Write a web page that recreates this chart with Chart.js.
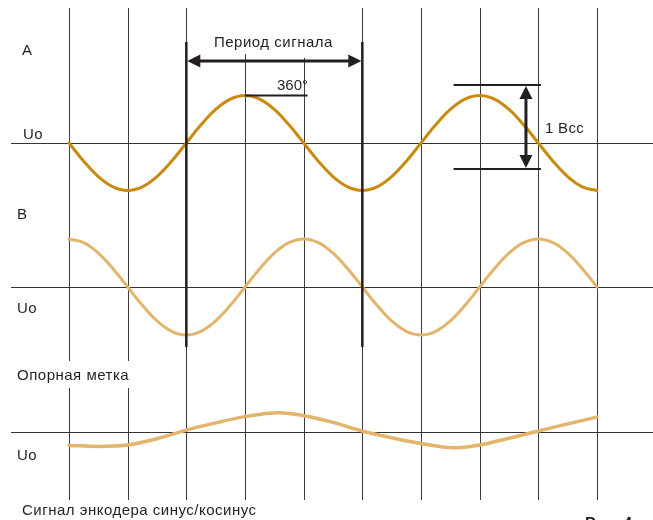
<!DOCTYPE html>
<html><head><meta charset="utf-8">
<script src="https://cdn.jsdelivr.net/npm/chart.js@4.4.1/dist/chart.umd.min.js"></script>
<style>html,body{margin:0;padding:0;background:#fff;overflow:hidden}canvas{display:block}</style>
</head><body>
<canvas id="c" width="653" height="520"></canvas>
<script>
// ---- data (phase in degrees, signal in volts) ----
const phaseDeg  = [0,22.5,45,67.5,90,112.5,135,157.5,180,202.5,225,247.5,270,292.5,315,337.5,
                   360,382.5,405,427.5,450,472.5,495,517.5,540,562.5,585,607.5,630,652.5,675,697.5,
                   720,742.5,765,787.5,810];
const signalA   = [0,-0.191,-0.354,-0.462,-0.5,-0.462,-0.354,-0.191,0,0.191,0.354,0.462,0.5,0.462,0.354,0.191,
                   0,-0.191,-0.354,-0.462,-0.5,-0.462,-0.354,-0.191,0,0.191,0.354,0.462,0.5,0.462,0.354,0.191,
                   0,-0.191,-0.354,-0.462,-0.5];
const signalB   = [0.5,0.462,0.354,0.191,0,-0.191,-0.354,-0.462,-0.5,-0.462,-0.354,-0.191,0,0.191,0.354,0.462,
                   0.5,0.462,0.354,0.191,0,-0.191,-0.354,-0.462,-0.5,-0.462,-0.354,-0.191,0,0.191,0.354,0.462,
                   0.5,0.462,0.354,0.191,0];
const refDeg    = [0,45,90,135,180,225,270,322,360,405,450,495,540,590,630,675,720,765,810];
const refSignal = [-0.14,-0.15,-0.135,-0.07,0.02,0.095,0.16,0.2,0.17,0.1,0.01,-0.06,-0.12,-0.165,-0.135,-0.065,0.01,0.085,0.155];
const gridDeg   = [0,90,180,270,360,450,540,630,720,810];

const labelA = 'A', labelB = 'B', labelRef = 'Опорная метка', labelZero = 'Uo';
const caption = 'Сигнал энкодера синус/косинус';
const periodLabel = 'Период сигнала', angleLabel = '360°', ampLabel = '1 Всс', figLabel = 'Рис. 4';

// ---- styles / layout ----
const INK = '#231f20';
const GRID = '#3c3c3c';
const COL_A = '#C98A12';
const COL_B = '#E3B46B';
const FONT = '15px "Liberation Sans", Arial, sans-serif';
const H = 520;
function band(zeroPx, pxPerUnit){ return {min: -(H - zeroPx)/pxPerUnit, max: zeroPx/pxPerUnit}; }
const bA = band(143, 95), bB = band(287, 96), bR = band(432, 96);

function head(ctx, x, y, dx, dy, len, half){
  const px = -dy, py = dx;
  ctx.beginPath();
  ctx.moveTo(x, y);
  ctx.lineTo(x - dx*len + px*half, y - dy*len + py*half);
  ctx.lineTo(x - dx*len - px*half, y - dy*len - py*half);
  ctx.closePath();
  ctx.fill();
}
function hline(ctx, x1, x2, y, w){ ctx.lineWidth = w; ctx.beginPath(); ctx.moveTo(x1, y); ctx.lineTo(x2, y); ctx.stroke(); }
function vline(ctx, x, y1, y2, w){ ctx.lineWidth = w; ctx.beginPath(); ctx.moveTo(x, y1); ctx.lineTo(x, y2); ctx.stroke(); }

const diagram = {
  id: 'diagram',
  beforeDatasetsDraw(chart){
    const ctx = chart.ctx, x = chart.scales.x;
    ctx.save();
    ctx.strokeStyle = GRID;
    const segs = {0:[[8,361],[388,500]], 90:[[8,361],[388,500]], 270:[[54,500]], 360:[[58,500]]};
    gridDeg.forEach(d => {
      const px = Math.round(x.getPixelForValue(d)) + 0.5;
      (segs[d] || [[8,500]]).forEach(s => vline(ctx, px, s[0], s[1], 1));
    });
    ctx.strokeStyle = '#333';
    ['yA','yB','yR'].forEach(id => {
      const py = Math.round(chart.scales[id].getPixelForValue(0)) + 0.5;
      hline(ctx, 11, 653, py, 1);
    });
    ctx.fillStyle = INK;
    ctx.font = FONT;
    ctx.textBaseline = 'alphabetic';
    ctx.letterSpacing = '0.5px';
    ctx.fillText(labelA, 22, 55);
    ctx.fillText(labelZero, 23, 139);
    ctx.fillText(labelB, 17, 219);
    ctx.fillText(labelZero, 17, 313);
    ctx.fillText(labelRef, 17, 380);
    ctx.fillText(labelZero, 17, 460);
    ctx.fillText(caption, 22, 515);
    ctx.fillText(periodLabel, 214, 47);
    ctx.letterSpacing = '0px';
    ctx.fillText(angleLabel, 277, 90);
    ctx.letterSpacing = '0.3px';
    ctx.fillText(ampLabel, 545, 133);
    ctx.letterSpacing = '0px';
    ctx.font = 'bold 16px "Liberation Sans", Arial, sans-serif';
    ctx.fillText(figLabel, 585, 529);
    ctx.restore();
  },
  afterDatasetsDraw(chart){
    const ctx = chart.ctx, x = chart.scales.x, yA = chart.scales.yA;
    ctx.save();
    ctx.strokeStyle = INK; ctx.fillStyle = INK;
    const x1 = x.getPixelForValue(180), x2 = x.getPixelForValue(450);
    vline(ctx, x1, 42, 347, 2.5);
    vline(ctx, x2, 42, 347, 2.5);
    hline(ctx, x1 + 8, x2 - 8, 61, 3);
    head(ctx, x1 + 1, 61, -1, 0, 13, 6.5);
    head(ctx, x2 - 1, 61, 1, 0, 13, 6.5);
    const peakY = yA.getPixelForValue(0.5);
    hline(ctx, x.getPixelForValue(270), x.getPixelForValue(366), peakY, 2);
    const l = x.getPixelForValue(590), r = x.getPixelForValue(724), ax = x.getPixelForValue(701);
    hline(ctx, l, r, 85, 2);
    hline(ctx, l, r, 169, 2);
    vline(ctx, ax, 95, 159, 3);
    head(ctx, ax, 86, 0, -1, 13, 6.5);
    head(ctx, ax, 168, 0, 1, 13, 6.5);
    ctx.restore();
  }
};

new Chart(document.getElementById('c'), {
  type: 'line',
  data: {
    datasets: [
      { data: phaseDeg.map((d,i)=>({x:d, y:signalA[i]})), yAxisID:'yA', borderColor: COL_A, borderWidth: 3, tension: 0.4 },
      { data: phaseDeg.map((d,i)=>({x:d, y:signalB[i]})), yAxisID:'yB', borderColor: COL_B, borderWidth: 3, tension: 0.4 },
      { data: refDeg.map((d,i)=>({x:d, y:refSignal[i]})), yAxisID:'yR', borderColor: COL_B, borderWidth: 3.5, cubicInterpolationMode: 'monotone' }
    ]
  },
  options: {
    responsive: false, animation: false, devicePixelRatio: 1,
    layout: { padding: { left: 12, right: 0, top: 0, bottom: 0 } },
    elements: { point: { radius: 0 }, line: { fill: false, borderCapStyle: 'round' } },
    plugins: { legend: { display: false }, tooltip: { enabled: false }, title: { display: false } },
    scales: {
      x:  { type: 'linear', min: -87.44, max: 895.9, display: false },
      yA: { type: 'linear', min: bA.min, max: bA.max, display: false },
      yB: { type: 'linear', min: bB.min, max: bB.max, display: false },
      yR: { type: 'linear', min: bR.min, max: bR.max, display: false }
    }
  },
  plugins: [diagram]
});
</script>
</body></html>
